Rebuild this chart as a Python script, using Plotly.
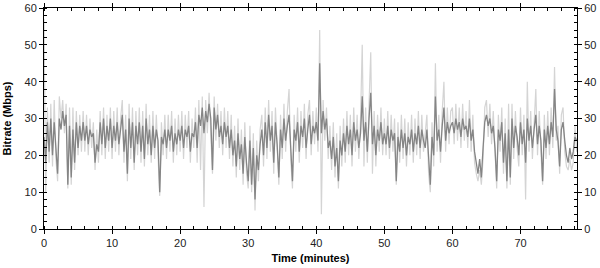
import plotly.graph_objects as go

# Sampling interval of the series (minutes)
STEP_MIN = 0.25

# Dark series: bitrate (Mbps), one row per 2 minutes
bitrate_dark = [
    25, 18, 29, 21, 30, 20, 29, 23,
    15, 30, 27, 32, 28, 31, 12, 28,
    14, 27, 18, 29, 22, 28, 24, 29,
    24, 28, 23, 27, 25, 26, 18, 23,
    21, 29, 23, 30, 22, 28, 24, 30,
    22, 28, 24, 29, 23, 27, 31, 21,
    27, 15, 30, 22, 29, 18, 28, 23,
    29, 21, 28, 19, 30, 23, 27, 20,
    28, 22, 27, 24, 10, 25, 23, 27,
    22, 27, 24, 28, 21, 26, 23, 27,
    24, 28, 22, 27, 25, 28, 21, 26,
    25, 29, 22, 31, 28, 33, 26, 32,
    29, 34, 30, 16, 33, 27, 31, 25,
    28, 23, 29, 25, 28, 22, 27, 20,
    24, 17, 26, 19, 23, 15, 25, 18,
    13, 24, 12, 22, 8, 20, 16, 23,
    27, 20, 29, 22, 31, 24, 28, 18,
    29, 23, 14, 27, 22, 30, 24, 28,
    31, 22, 13, 27, 24, 29, 21, 28,
    25, 30, 22, 27, 31, 23, 28, 26,
    29, 24, 45, 26, 32, 27, 30, 22,
    24, 19, 25, 17, 22, 13, 24, 20,
    26, 21, 28, 23, 27, 20, 29, 24,
    27, 22, 26, 36, 24, 29, 21, 30,
    37, 23, 28, 20, 27, 24, 29, 23,
    26, 23, 28, 22, 27, 24, 26, 13,
    25, 21, 27, 22, 26, 20, 25, 23,
    27, 21, 26, 23, 28, 22, 27, 24,
    22, 27, 18, 12, 25, 20, 36, 24,
    27, 21, 28, 33, 24, 29, 26, 28,
    29, 26, 30, 27, 29, 25, 30, 27,
    28, 25, 30, 24, 27, 21, 18, 15,
    19, 14, 22, 29, 31, 28, 30, 26,
    28, 22, 13, 27, 24, 29, 18, 26,
    13, 27, 14, 30, 22, 28, 25, 20,
    29, 23, 27, 18, 30, 24, 28, 22,
    27, 31, 23, 28, 24, 13, 27, 22,
    28, 23, 29, 25, 38, 27, 24, 17,
    27, 29, 24, 20, 18, 22, 19, 21,
    25, 24,
]

# Light series: bitrate peaks/troughs (Mbps), one row per 2 minutes
bitrate_light = [
    57, 10, 33, 18, 34, 17, 35, 19,
    13, 36, 30, 35, 26, 34, 11, 33,
    12, 33, 16, 32, 20, 31, 21, 32,
    21, 31, 20, 30, 22, 29, 16, 27,
    18, 32, 20, 33, 19, 31, 21, 33,
    19, 32, 21, 33, 20, 30, 35, 18,
    31, 13, 34, 19, 33, 16, 32, 20,
    33, 18, 32, 17, 34, 20, 31, 18,
    32, 19, 31, 21, 9, 29, 20, 31,
    19, 31, 21, 32, 18, 30, 20, 31,
    21, 32, 19, 31, 22, 32, 18, 30,
    22, 33, 18, 35, 16, 36, 6, 35,
    26, 37, 27, 15, 36, 24, 34, 22,
    32, 20, 33, 22, 32, 19, 31, 17,
    28, 14, 30, 16, 27, 12, 29, 15,
    11, 28, 10, 26, 5, 24, 13, 27,
    31, 17, 33, 19, 35, 21, 32, 15,
    33, 20, 12, 31, 19, 34, 21, 32,
    38, 19, 11, 31, 21, 33, 18, 32,
    22, 34, 19, 31, 35, 20, 32, 23,
    33, 21, 54, 4, 35, 24, 33, 19,
    28, 16, 29, 14, 26, 11, 28, 17,
    30, 18, 32, 20, 31, 17, 33, 21,
    31, 19, 30, 50, 17, 33, 18, 34,
    48, 15, 32, 17, 31, 21, 33, 20,
    30, 20, 32, 19, 31, 21, 30, 12,
    29, 18, 31, 19, 30, 17, 29, 20,
    31, 18, 30, 20, 32, 19, 31, 21,
    26, 31, 15, 10, 29, 17, 45, 21,
    31, 18, 32, 40, 21, 33, 23, 32,
    33, 23, 34, 24, 33, 22, 34, 24,
    32, 22, 35, 21, 31, 18, 15, 13,
    16, 12, 19, 33, 35, 25, 34, 23,
    32, 19, 11, 31, 21, 33, 15, 30,
    11, 34, 12, 34, 19, 32, 22, 17,
    33, 20, 31, 8, 40, 21, 32, 19,
    31, 38, 20, 32, 21, 12, 31, 19,
    32, 20, 33, 22, 44, 24, 28, 15,
    31, 33, 21, 17, 16, 19, 16, 18,
    28, 21,
]

x_ticks = [0, 10, 20, 30, 40, 50, 60, 70]
y_ticks = [0, 10, 20, 30, 40, 50, 60]

t_dark = [i * STEP_MIN for i in range(len(bitrate_dark))]
t_light = [i * STEP_MIN for i in range(len(bitrate_light))]

FONT = "Liberation Sans, Arial, sans-serif"

fig = go.Figure()
fig.add_trace(go.Scatter(x=t_light, y=bitrate_light, mode="lines",
                         line=dict(color="#d4d4d4", width=1.2), hoverinfo="skip"))
fig.add_trace(go.Scatter(x=t_dark, y=bitrate_dark, mode="lines",
                         line=dict(color="#858585", width=1.3), hoverinfo="skip"))
# dummy trace to activate right axis
fig.add_trace(go.Scatter(x=[None], y=[None], yaxis="y2", showlegend=False))

axis_common = dict(showgrid=False, zeroline=False, showline=True, linecolor="#000000",
                   linewidth=1, tickcolor="#000000", ticklen=4, tickwidth=1,
                   automargin=False,
                   tickfont=dict(family=FONT, size=11, color="#222222"))

fig.update_layout(
    width=600, height=268,
    margin=dict(l=44, r=23, t=8, b=39),
    paper_bgcolor="white", plot_bgcolor="white",
    showlegend=False,
    xaxis=dict(range=[0, 78.3], tickvals=x_ticks, ticks="outside", mirror="ticks",
               minor=dict(dtick=2, ticks="inside", ticklen=3, tickcolor="#000000"),
               title=dict(text="<b>Time (minutes)</b>", standoff=6,
                          font=dict(family=FONT, size=11, color="#000000")),
               **axis_common),
    yaxis=dict(range=[0, 60], tickvals=y_ticks, ticks="outside",
               minor=dict(dtick=2, ticks="inside", ticklen=3, tickcolor="#000000"),
               title=dict(text="<b>Bitrate (Mbps)</b>", standoff=10,
                          font=dict(family=FONT, size=11, color="#000000")),
               **axis_common),
    yaxis2=dict(range=[0, 60], tickvals=y_ticks, ticks="outside", overlaying="y",
                side="right", anchor="x",
                minor=dict(dtick=2, ticks="inside", ticklen=3, tickcolor="#000000"),
                **axis_common),
)

fig.write_html("out.html", config={"displayModeBar": False},
               post_script="document.body.style.margin='0';document.body.style.overflow='hidden';")
